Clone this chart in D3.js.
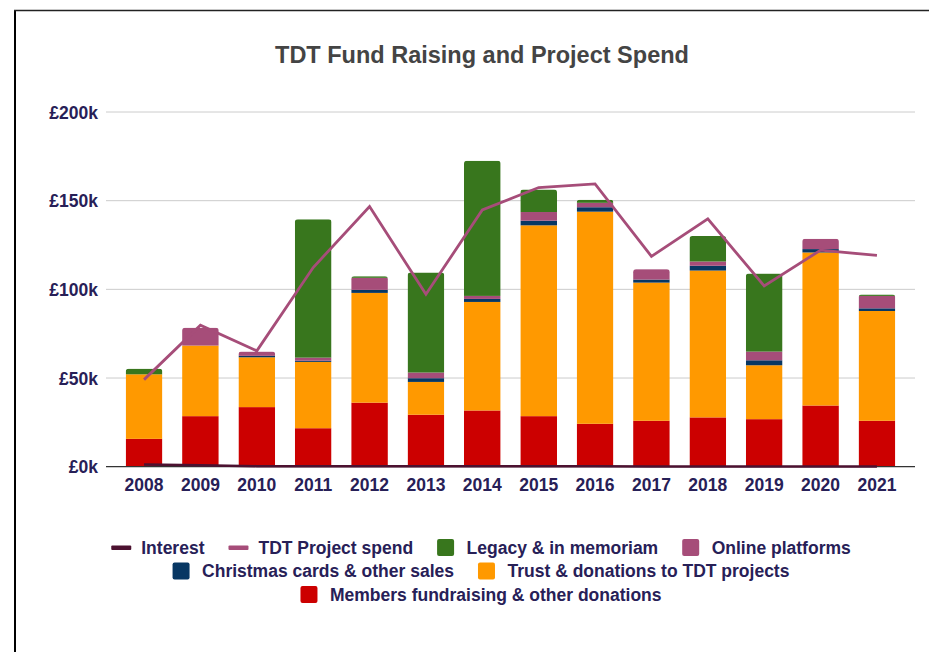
<!DOCTYPE html>
<html>
<head>
<meta charset="utf-8">
<script src="https://cdn.jsdelivr.net/npm/d3@7"></script>
<style>
  html, body { margin: 0; padding: 0; background: #fff; }
  svg { display: block; font-family: "Liberation Sans", Arial, sans-serif; }
  .tick-label { font-size: 17.5px; font-weight: bold; fill: #272057; }
  .legend-label { font-size: 17.5px; font-weight: bold; fill: #272057; }
  .title { font-size: 23.5px; font-weight: bold; fill: #444; }
</style>
</head>
<body>
<div id="chart"></div>
<script>
// values in £k
const years = ["2008","2009","2010","2011","2012","2013","2014","2015","2016","2017","2018","2019","2020","2021"];
const members   = [15.7, 28.5, 33.6, 21.7, 36.1, 29.3, 31.7, 28.5, 24.2, 25.9, 27.8, 26.8, 34.5, 25.9];
const trust     = [36.4, 39.8, 28.1, 37.4, 61.9, 18.5, 61.2, 107.6, 119.6, 77.9, 82.8, 30.4, 86.3, 61.9];
const christmas = [0, 0, 0.8, 0.7, 1.7, 2.1, 1.7, 2.6, 2.5, 1.7, 2.7, 2.8, 1.9, 1.5];
const online    = [0, 10.1, 2.4, 1.7, 6.8, 3.2, 1.7, 4.9, 2.5, 5.9, 2.4, 4.9, 5.8, 7.0];
const legacy    = [3.2, 0, 0, 78.0, 0.9, 56.4, 76.2, 12.7, 1.7, 0, 14.4, 44.0, 0, 0.8];
const interest  = [1.3, 0.8, 0.3, 0.2, 0.2, 0.2, 0.2, 0.2, 0.2, 0.1, 0.1, 0.1, 0.1, 0.1];
const projectSpend = [49.1, 79.8, 65.3, 112.3, 146.7, 97.2, 144.8, 157.4, 159.5, 118.6, 139.7, 101.9, 122.1, 119.1];
const yTicks = [0, 50, 100, 150, 200];

const stackKeys = ["members", "trust", "christmas", "online", "legacy"];
const colors = {
  members: "#cc0000", trust: "#ff9900", christmas: "#073763",
  online: "#a64d79", legacy: "#38761d",
  interest: "#4c1130", spend: "#a64d79"
};

const W = 929, H = 652;
const plot = { left: 106, right: 915, top: 112, bottom: 466.7 };

const svg = d3.select("#chart").append("svg").attr("width", W).attr("height", H);

// frame (left + top edges visible in the screenshot)
svg.append("line").attr("x1", 15).attr("x2", 15).attr("y1", 10).attr("y2", H)
  .attr("stroke", "#000").attr("stroke-width", 2);
svg.append("line").attr("x1", 14).attr("x2", W).attr("y1", 10.5).attr("y2", 10.5)
  .attr("stroke", "#222").attr("stroke-width", 1.5);

svg.append("text").attr("class", "title")
  .attr("x", 482).attr("y", 63).attr("text-anchor", "middle")
  .text("TDT Fund Raising and Project Spend");

const x = d3.scaleBand().domain(years).range([plot.left, plot.right])
  .paddingInner(0.35).paddingOuter(0.35);
const y = d3.scaleLinear().domain([0, 200]).range([plot.bottom, plot.top]);

// gridlines
svg.append("g").selectAll("line").data(yTicks.filter(d => d > 0)).join("line")
  .attr("x1", plot.left).attr("x2", plot.right)
  .attr("y1", d => y(d)).attr("y2", d => y(d))
  .attr("stroke", "#cccccc").attr("stroke-width", 1);

// y axis labels
const yAxis = d3.axisLeft(y).tickValues(yTicks).tickSize(0).tickPadding(8)
  .tickFormat(d => `£${d}k`);
svg.append("g").attr("transform", `translate(${plot.left},0)`).call(yAxis)
  .call(g => g.select(".domain").remove())
  .selectAll("text").attr("class", "tick-label").attr("font-family", null).attr("font-size", null)
  .attr("dy", "0.35em");

// stacked bars
const rows = years.map((yr, i) => ({
  year: yr, members: members[i], trust: trust[i], christmas: christmas[i],
  online: online[i], legacy: legacy[i]
}));
const series = d3.stack().keys(stackKeys)(rows);

// rounded top corners: clip each column with a rounded rect
const defs = svg.append("defs");
rows.forEach(r => {
  const total = stackKeys.reduce((s, k) => s + r[k], 0);
  defs.append("clipPath").attr("id", `clip-${r.year}`)
    .append("rect")
    .attr("x", x(r.year)).attr("width", x.bandwidth())
    .attr("y", y(total)).attr("height", plot.bottom - y(total) + 6)
    .attr("rx", 3);
});

const barG = svg.append("g");
series.forEach(s => {
  barG.append("g").attr("fill", colors[s.key])
    .selectAll("rect").data(s.filter(d => d[1] - d[0] > 0)).join("rect")
    .attr("x", d => x(d.data.year))
    .attr("width", x.bandwidth())
    .attr("y", d => y(d[1]))
    .attr("height", d => y(d[0]) - y(d[1]))
    .attr("clip-path", d => `url(#clip-${d.data.year})`);
});

// zero baseline
svg.append("line").attr("x1", plot.left).attr("x2", plot.right)
  .attr("y1", plot.bottom).attr("y2", plot.bottom)
  .attr("stroke", "#333").attr("stroke-width", 1.2);

// lines
const cx = yr => x(yr) + x.bandwidth() / 2;
const lineGen = d3.line().x((d, i) => cx(years[i])).y(d => y(d));

svg.append("path").datum(interest)
  .attr("d", lineGen).attr("fill", "none")
  .attr("stroke", colors.interest).attr("stroke-width", 2.5);

svg.append("path").datum(projectSpend)
  .attr("d", lineGen).attr("fill", "none")
  .attr("stroke", colors.spend).attr("stroke-width", 2.8)
  .attr("stroke-linejoin", "miter");

// x axis labels
const xAxis = d3.axisBottom(x).tickSize(0).tickPadding(12);
svg.append("g").attr("transform", `translate(0,${plot.bottom})`).call(xAxis)
  .call(g => g.select(".domain").remove())
  .selectAll("text").attr("class", "tick-label").attr("font-family", null).attr("font-size", null);

// legend
const legendRows = [
  [
    { label: "Interest", key: "interest", type: "line" },
    { label: "TDT Project spend", key: "spend", type: "line" },
    { label: "Legacy & in memoriam", key: "legacy", type: "rect" },
    { label: "Online platforms", key: "online", type: "rect" }
  ],
  [
    { label: "Christmas cards & other sales", key: "christmas", type: "rect" },
    { label: "Trust & donations to TDT projects", key: "trust", type: "rect" }
  ],
  [
    { label: "Members fundraising & other donations", key: "members", type: "rect" }
  ]
];
const rowY = [547.5, 571, 594.5];
const legendCenter = 481;
const legend = svg.append("g");

legendRows.forEach((items, ri) => {
  const rg = legend.append("g");
  let cursor = 0;
  items.forEach((it, ii) => {
    const ig = rg.append("g").attr("transform", `translate(${cursor},0)`);
    let sw;
    if (it.type === "line") {
      sw = 20;
      ig.append("rect").attr("x", 0).attr("y", rowY[ri] - 2).attr("width", sw).attr("height", 4.5)
        .attr("rx", 1).attr("fill", colors[it.key]);
    } else {
      sw = 17;
      ig.append("rect").attr("x", 0).attr("y", rowY[ri] - 8.5).attr("width", sw).attr("height", 17)
        .attr("rx", 2).attr("fill", colors[it.key]);
    }
    const gap = it.type === "line" ? 10 : 12.5;
    const t = ig.append("text").attr("class", "legend-label")
      .attr("x", sw + gap).attr("y", rowY[ri] + 6)
      .text(it.label);
    cursor += sw + gap + t.node().getComputedTextLength() + (ii < items.length - 1 ? 24 : 0);
  });
  rg.attr("transform", `translate(${legendCenter - cursor / 2},0)`);
});
</script>
</body>
</html>
